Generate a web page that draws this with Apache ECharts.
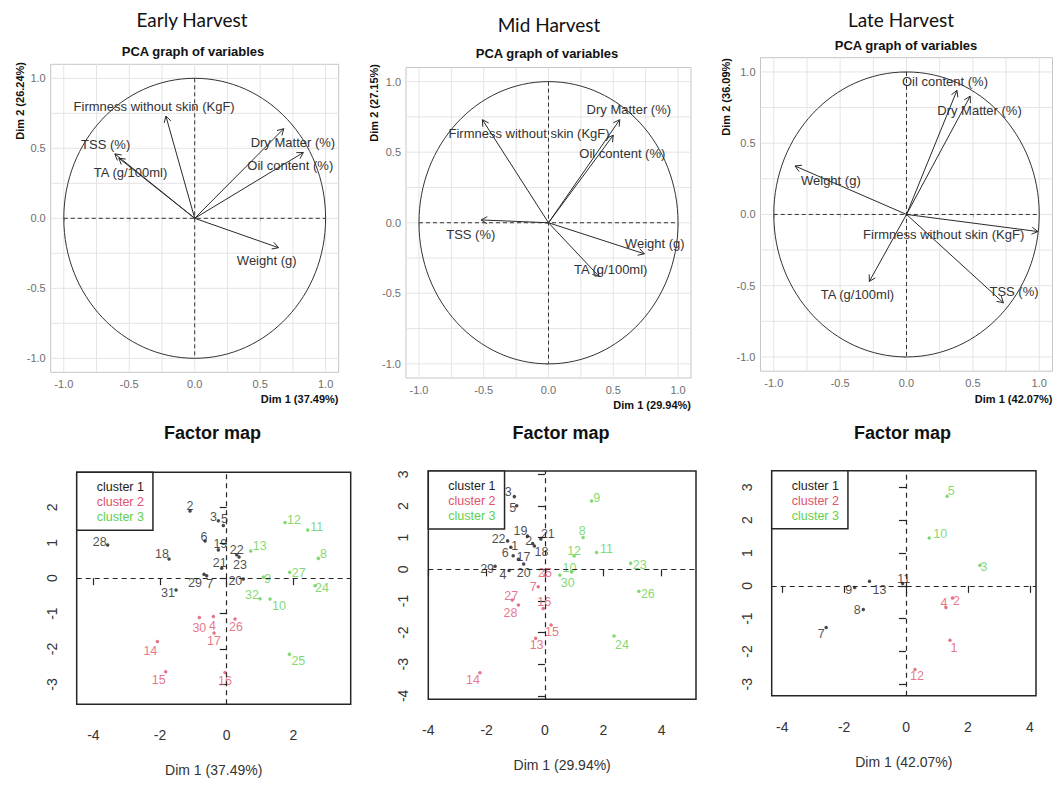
<!DOCTYPE html>
<html>
<head>
<meta charset="utf-8">
<title>PCA and factor maps by harvest stage</title>
<script src="https://cdn.jsdelivr.net/npm/echarts@6/dist/echarts.min.js"></script>
<style>
  html, body { margin: 0; padding: 0; background: #ffffff; }
  #chart { width: 1058px; height: 788px; }
</style>
</head>
<body>
<div id="chart"></div>
<script>
// ---------- PCA variable coordinates (Dim 1, Dim 2) ----------
const varNames = ['Firmness without skin (KgF)', 'TSS (%)', 'TA (g/100ml)', 'Dry Matter (%)', 'Oil content (%)', 'Weight (g)'];

const earlyVarDim1 = [-0.22, -0.61, -0.58, 0.68, 0.83, 0.64];
const earlyVarDim2 = [0.73, 0.46, 0.43, 0.64, 0.47, -0.21];

const midVarDim1 = [-0.51, -0.52, 0.39, 0.55, 0.50, 0.74];
const midVarDim2 = [0.73, 0.02, -0.38, 0.73, 0.62, -0.22];

const lateVarDim1 = [0.99, 0.73, -0.28, 0.48, 0.38, -0.84];
const lateVarDim2 = [-0.12, -0.62, -0.47, 0.83, 0.87, 0.34];

// correlation-circle grid and tick values
const pcaGridSteps = [-1, -0.75, -0.5, -0.25, 0, 0.25, 0.5, 0.75, 1];
const pcaTickValues = [-1, -0.5, 0, 0.5, 1];

// ---------- individuals on the factor maps ----------
const earlyIds = ['28', '2', '3', '5', '6', '19', '22', '23', '18', '21', '29', '7', '20', '31',
                  '30', '4', '26', '17', '14', '15', '16',
                  '12', '11', '13', '8', '27', '9', '24', '32', '10', '25'];
const earlyDim1 = [-3.57, -1.10, -0.25, -0.10, -0.65, -0.25, 0.30, 0.37, -1.73, -0.15, -0.68, -0.60, 0.50, -1.52,
                   -0.82, -0.40, 0.25, -0.38, -2.08, -1.83, -0.05,
                   1.75, 2.43, 0.72, 2.75, 1.89, 1.10, 2.65, 1.00, 1.30, 1.88];
const earlyDim2 = [0.94, 1.90, 1.62, 1.49, 1.05, 0.80, 0.66, 0.60, 0.54, 0.28, 0.11, 0.07, -0.02, -0.33,
                   -1.11, -1.08, -1.15, -1.55, -1.79, -2.64, -2.66,
                   1.57, 1.36, 0.77, 0.56, 0.17, 0.03, -0.21, -0.58, -0.59, -2.15];
const earlyCluster = [1, 1, 1, 1, 1, 1, 1, 1, 1, 1, 1, 1, 1, 1,
                      2, 2, 2, 2, 2, 2, 2,
                      3, 3, 3, 3, 3, 3, 3, 3, 3, 3];

const midIds = ['3', '5', '19', '21', '22', '2', '18', '1', '6', '17', '29', '4', '20',
                '25', '7', '27', '28', '16', '15', '13', '14',
                '9', '8', '11', '12', '23', '10', '30', '26', '24'];
const midDim1 = [-1.05, -0.97, -0.60, -0.14, -1.28, -0.42, -0.36, -1.17, -1.09, -0.91, -1.71, -1.23, -0.73,
                 0.00, -0.23, -1.12, -0.91, -0.06, 0.21, -0.32, -2.23,
                 1.60, 1.31, 1.77, 1.00, 2.94, 0.91, 0.51, 3.22, 2.37];
const midDim2 = [2.30, 2.01, 1.05, 0.96, 0.90, 0.82, 0.74, 0.70, 0.43, 0.32, 0.10, -0.04, 0.17,
                 -0.18, -0.55, -0.97, -1.13, -1.24, -1.76, -2.18, -3.27,
                 2.16, 1.01, 0.53, 0.42, 0.19, -0.08, -0.18, -0.69, -2.11];
const midCluster = [1, 1, 1, 1, 1, 1, 1, 1, 1, 1, 1, 1, 1,
                    2, 2, 2, 2, 2, 2, 2, 2,
                    3, 3, 3, 3, 3, 3, 3, 3, 3];

const lateIds = ['11', '13', '9', '8', '7', '2', '4', '1', '12', '5', '10', '3'];
const lateDim1 = [-0.11, -1.18, -1.66, -1.38, -2.58, 1.50, 1.29, 1.42, 0.29, 1.33, 0.75, 2.39];
const lateDim2 = [0.07, 0.14, -0.05, -0.72, -1.27, -0.37, -0.66, -1.66, -2.55, 2.73, 1.46, 0.63];
const lateCluster = [1, 1, 1, 1, 1, 2, 2, 2, 2, 3, 3, 3];

const clusterNames = ['cluster 1', 'cluster 2', 'cluster 3'];

// axis ticks of the factor maps
const earlyTicksX = [-4, -2, 0, 2];
const earlyTicksY = [-3, -2, -1, 0, 1, 2];
const midTicksX = [-4, -2, 0, 2, 4];
const midTicksY = [-4, -3, -2, -1, 0, 1, 2, 3];
const lateTicksX = [-4, -2, 0, 2, 4];
const lateTicksY = [-3, -2, -1, 0, 1, 2, 3];

// ---------- layout & style ----------
const FONT = '"Liberation Sans", Arial, sans-serif';
const CLUSTER_COLORS = ['#1c1c1c', '#DF536B', '#61D04F'];

// where each variable name sits on the correlation circle
const earlyVarLabelAt = {
  'Firmness without skin (KgF)': [-0.31, 0.80], 'TSS (%)': [-0.68, 0.525], 'TA (g/100ml)': [-0.49, 0.33],
  'Dry Matter (%)': [0.75, 0.54], 'Oil content (%)': [0.73, 0.38], 'Weight (g)': [0.55, -0.30]
};
const midVarLabelAt = {
  'Firmness without skin (KgF)': [-0.15, 0.63], 'TSS (%)': [-0.60, -0.08], 'TA (g/100ml)': [0.48, -0.33],
  'Dry Matter (%)': [0.62, 0.80], 'Oil content (%)': [0.57, 0.49], 'Weight (g)': [0.82, -0.15]
};
const lateVarLabelAt = {
  'Firmness without skin (KgF)': [0.28, -0.14], 'TSS (%)': [0.81, -0.54], 'TA (g/100ml)': [-0.37, -0.56],
  'Dry Matter (%)': [0.55, 0.73], 'Oil content (%)': [0.29, 0.93], 'Weight (g)': [-0.57, 0.24]
};

// pixel offsets of the point labels from their dots
const earlyLabelShift = {
  '28': [-8, -3], '2': [0, -5], '3': [-5, -4], '5': [1, -6], '6': [-1, -4], '19': [2, -6], '22': [0, -5],
  '23': [1, 8], '18': [-7, -5], '21': [-2, -5], '29': [-9, 9], '7': [3, 8], '20': [-8, 2], '31': [-8, 3],
  '30': [0, 10], '4': [-1, 10], '26': [1, 8], '17': [0, 8], '14': [-7, 9], '15': [-7, 8], '16': [0, 9],
  '12': [9, -3], '11': [9, -3], '13': [9, -5], '8': [5, -4], '27': [9, 1], '9': [4, 2], '24': [7, 2],
  '32': [-8, -4], '10': [9, 7], '25': [9, 7]
};
const midLabelShift = {
  '3': [-6, -5], '5': [-4, 2], '19': [-7, -5], '21': [7, -5], '22': [-9, -2], '2': [-4, -2], '18': [7, 6],
  '1': [4, -1], '6': [-8, -3], '17': [5, -2], '29': [-8, 3], '4': [-6, 4], '20': [0, 9],
  '25': [0, -2], '7': [-5, 0], '27': [-1, -4], '28': [-8, 8], '16': [1, -7], '15': [1, 7], '13': [1, 7], '14': [-7, 7],
  '9': [5, -3], '8': [-1, -6], '11': [10, -4], '12': [0, -5], '23': [9, 2], '10': [-2, -4], '30': [8, 8],
  '26': [9, 3], '24': [8, 9]
};
const lateLabelShift = {
  '11': [1, -5], '13': [10, 9], '9': [-6, 3], '8': [-6, 1], '7': [-5, 7],
  '2': [4, 3], '4': [-2, -4], '1': [4, 8], '12': [2, 7],
  '5': [4, -5], '10': [11, -4], '3': [4, 2]
};

const grids = [
  { left: 50.7, top: 64.3, width: 288, height: 308 },
  { left: 406, top: 67.5, width: 285, height: 310.5 },
  { left: 760.5, top: 57.7, width: 292, height: 313.5 },
  { left: 76.7, top: 472.3, width: 274, height: 232 },
  { left: 428.3, top: 471, width: 267.7, height: 228.3 },
  { left: 771.7, top: 470.7, width: 264.3, height: 225 }
].map((g, i) => Object.assign({
  show: true,
  containLabel: false,
  outerBoundsMode: 'none',
  backgroundColor: '#ffffff',
  borderColor: i < 3 ? '#c6c6c6' : '#262626',
  borderWidth: i < 3 ? 1 : 1.5
}, g));

function pcaXAxis(gridIndex) {
  return {
    gridIndex, type: 'value', min: -1.1, max: 1.1,
    axisLine: { show: false }, splitLine: { show: false },
    axisTick: { show: true, customValues: pcaTickValues, length: 3, lineStyle: { color: '#9a9a9a' } },
    axisLabel: { customValues: pcaTickValues, formatter: v => v.toFixed(1), color: '#6e6e6e',
                 fontSize: 11, fontFamily: FONT, margin: 6 }
  };
}
function pcaYAxis(gridIndex) {
  const a = pcaXAxis(gridIndex);
  a.axisLabel = Object.assign({}, a.axisLabel, { margin: 5 });
  return a;
}
function factorXAxis(gridIndex, min, max, ticks, name) {
  return {
    gridIndex, type: 'value', min, max,
    axisLine: { show: false }, splitLine: { show: false },
    axisTick: { show: true, customValues: ticks, length: 7, lineStyle: { color: '#262626', width: 1.2 } },
    axisLabel: { customValues: ticks, color: '#333', fontSize: 14, fontFamily: FONT, margin: 24 },
    name, nameLocation: 'middle', nameGap: 59,
    nameTextStyle: { color: '#333', fontSize: 14, fontFamily: FONT }
  };
}
function factorYAxis(gridIndex, min, max, ticks) {
  return {
    gridIndex, type: 'value', min, max,
    axisLine: { show: false }, splitLine: { show: false },
    axisTick: { show: true, customValues: ticks, length: 7, lineStyle: { color: '#262626', width: 1.2 } },
    axisLabel: { customValues: ticks, rotate: 90, color: '#333', fontSize: 14, fontFamily: FONT, margin: 18 }
  };
}

// gridlines, unit circle and dashed axes of a correlation circle
function pcaBackdrop(gridIndex) {
  return {
    type: 'custom', coordinateSystem: 'cartesian2d', xAxisIndex: gridIndex, yAxisIndex: gridIndex,
    silent: true, z: 1, data: [[0, 0]],
    renderItem(params, api) {
      const cs = params.coordSys;
      const children = [];
      pcaGridSteps.forEach(v => {
        const px = api.coord([v, 0])[0];
        const py = api.coord([0, v])[1];
        children.push({ type: 'line', shape: { x1: px, y1: cs.y, x2: px, y2: cs.y + cs.height },
                        style: { stroke: '#e4e4e4', lineWidth: 1 } });
        children.push({ type: 'line', shape: { x1: cs.x, y1: py, x2: cs.x + cs.width, y2: py },
                        style: { stroke: '#e4e4e4', lineWidth: 1 } });
      });
      const c = api.coord([0, 0]);
      const left = api.coord([-1, 0]), right = api.coord([1, 0]);
      const top = api.coord([0, 1]), bottom = api.coord([0, -1]);
      children.push({ type: 'line', shape: { x1: left[0], y1: left[1], x2: right[0], y2: right[1] },
                      style: { stroke: '#333', lineWidth: 1, lineDash: [4, 3] } });
      children.push({ type: 'line', shape: { x1: top[0], y1: top[1], x2: bottom[0], y2: bottom[1] },
                      style: { stroke: '#333', lineWidth: 1, lineDash: [4, 3] } });
      children.push({ type: 'ellipse', shape: { cx: c[0], cy: c[1], rx: right[0] - c[0], ry: c[1] - top[1] },
                      style: { fill: 'none', stroke: '#333', lineWidth: 1 } });
      return { type: 'group', children };
    }
  };
}

// variable arrows with open heads and their names
function pcaArrows(gridIndex, d1, d2, labelAt) {
  return {
    type: 'custom', coordinateSystem: 'cartesian2d', xAxisIndex: gridIndex, yAxisIndex: gridIndex,
    silent: true, z: 3,
    data: varNames.map((n, i) => [d1[i], d2[i], i]),
    renderItem(params, api) {
      const o = api.coord([0, 0]);
      const t = api.coord([api.value(0), api.value(1)]);
      const name = varNames[api.value(2)];
      const a = Math.atan2(t[1] - o[1], t[0] - o[0]);
      const L = 7, h = Math.PI / 6;
      const p1 = [t[0] - L * Math.cos(a - h), t[1] - L * Math.sin(a - h)];
      const p2 = [t[0] - L * Math.cos(a + h), t[1] - L * Math.sin(a + h)];
      const lp = api.coord(labelAt[name]);
      return {
        type: 'group',
        children: [
          { type: 'line', shape: { x1: o[0], y1: o[1], x2: t[0], y2: t[1] }, style: { stroke: '#2a2a2a', lineWidth: 1 } },
          { type: 'polyline', shape: { points: [p1, t, p2] }, style: { stroke: '#2a2a2a', lineWidth: 1, fill: 'none' } },
          { type: 'text', x: lp[0], y: lp[1],
            style: { text: name, font: '13px ' + FONT, fill: '#333', align: 'center', verticalAlign: 'middle' } }
        ]
      };
    }
  };
}

// individuals of one factor map, one series per cluster
function factorSeries(gridIndex, ids, d1, d2, cl, shift) {
  return clusterNames.map((cname, k) => {
    const color = CLUSTER_COLORS[k];
    const s = {
      type: 'scatter', name: cname, xAxisIndex: gridIndex, yAxisIndex: gridIndex,
      symbol: 'circle', symbolSize: 3.5, silent: true, z: 3,
      itemStyle: { color },
      label: { show: true, position: 'inside', formatter: '{b}', color, fontSize: 12.5, fontFamily: FONT,
               textBorderWidth: 0 },
      data: ids.map((id, i) => i).filter(i => cl[i] === k + 1).map(i => ({
        name: ids[i], value: [d1[i], d2[i]], label: { offset: shift[ids[i]] || [0, 0] }
      }))
    };
    if (k === 0) {
      s.markLine = {
        silent: true, symbol: ['none', 'none'], label: { show: false },
        lineStyle: { color: '#262626', width: 1.2, type: [5, 4] },
        data: [{ xAxis: 0 }, { yAxis: 0 }]
      };
    }
    return s;
  });
}

// cluster key in the top-left corner of a factor map (drawn under the points)
function legendFor(left, top) {
  return {
    orient: 'vertical', left, top, selectedMode: false, z: 1,
    icon: 'rect', itemWidth: 0, itemHeight: 0, itemGap: 1,
    itemStyle: { opacity: 0 },
    padding: [8, 9, 6, 15],
    borderColor: '#262626', borderWidth: 1.5, backgroundColor: '#ffffff',
    textStyle: { fontSize: 12.5, fontFamily: FONT, lineHeight: 14 },
    data: clusterNames.map((n, k) => ({ name: n, textStyle: { color: CLUSTER_COLORS[k] } }))
  };
}

function headText(x, y, text, font, extra) {
  return Object.assign({ type: 'text', x, y, silent: true,
    style: { text, font, fill: '#111', align: 'center', verticalAlign: 'middle' } }, extra || {});
}

const graphics = [
  headText(192, 19.5, 'Early Harvest', '19px Lato, "Open Sans", sans-serif'),
  headText(549, 24, 'Mid Harvest', '19px Lato, "Open Sans", sans-serif'),
  headText(901, 19.5, 'Late Harvest', '19px Lato, "Open Sans", sans-serif'),
  headText(193, 51.7, 'PCA graph of variables', 'bold 13px ' + FONT),
  headText(547, 53.3, 'PCA graph of variables', 'bold 13px ' + FONT),
  headText(906, 45, 'PCA graph of variables', 'bold 13px ' + FONT),
  headText(212.5, 433.3, 'Factor map', 'bold 18px ' + FONT),
  headText(561, 433.3, 'Factor map', 'bold 18px ' + FONT),
  headText(902.5, 433.3, 'Factor map', 'bold 18px ' + FONT),
  // axis titles of the correlation circles
  { type: 'text', x: 338.5, y: 399, silent: true,
    style: { text: 'Dim 1 (37.49%)', font: 'bold 11px ' + FONT, fill: '#111', align: 'right', verticalAlign: 'middle' } },
  { type: 'text', x: 691, y: 405, silent: true,
    style: { text: 'Dim 1 (29.94%)', font: 'bold 11px ' + FONT, fill: '#111', align: 'right', verticalAlign: 'middle' } },
  { type: 'text', x: 1052.5, y: 399, silent: true,
    style: { text: 'Dim 1 (42.07%)', font: 'bold 11px ' + FONT, fill: '#111', align: 'right', verticalAlign: 'middle' } },
  { type: 'text', x: 20, y: 62, rotation: Math.PI / 2, silent: true,
    style: { text: 'Dim 2 (26.24%)', font: 'bold 11px ' + FONT, fill: '#111', align: 'right', verticalAlign: 'middle' } },
  { type: 'text', x: 374, y: 64, rotation: Math.PI / 2, silent: true,
    style: { text: 'Dim 2 (27.15%)', font: 'bold 11px ' + FONT, fill: '#111', align: 'right', verticalAlign: 'middle' } },
  { type: 'text', x: 726, y: 58, rotation: Math.PI / 2, silent: true,
    style: { text: 'Dim 2 (36.09%)', font: 'bold 11px ' + FONT, fill: '#111', align: 'right', verticalAlign: 'middle' } }
];

const option = {
  animation: false,
  backgroundColor: '#ffffff',
  grid: grids,
  xAxis: [
    pcaXAxis(0), pcaXAxis(1), pcaXAxis(2),
    factorXAxis(3, -4.5, 3.72, earlyTicksX, 'Dim 1 (37.49%)'),
    factorXAxis(4, -4.0, 5.18, midTicksX, 'Dim 1 (29.94%)'),
    factorXAxis(5, -4.34, 4.20, lateTicksX, 'Dim 1 (42.07%)')
  ],
  yAxis: [
    pcaYAxis(0), pcaYAxis(1), pcaYAxis(2),
    factorYAxis(3, -3.56, 2.99, earlyTicksY),
    factorYAxis(4, -4.11, 3.11, midTicksY),
    factorYAxis(5, -3.35, 3.51, lateTicksY)
  ],
  legend: [legendFor(76.7, 472.3), legendFor(428.3, 471), legendFor(771.7, 470.7)],
  graphic: { elements: graphics },
  series: [
    pcaBackdrop(0), pcaBackdrop(1), pcaBackdrop(2),
    pcaArrows(0, earlyVarDim1, earlyVarDim2, earlyVarLabelAt),
    pcaArrows(1, midVarDim1, midVarDim2, midVarLabelAt),
    pcaArrows(2, lateVarDim1, lateVarDim2, lateVarLabelAt),
    ...factorSeries(3, earlyIds, earlyDim1, earlyDim2, earlyCluster, earlyLabelShift),
    ...factorSeries(4, midIds, midDim1, midDim2, midCluster, midLabelShift),
    ...factorSeries(5, lateIds, lateDim1, lateDim2, lateCluster, lateLabelShift)
  ]
};

const chart = echarts.init(document.getElementById('chart'), null, { renderer: 'svg', width: 1058, height: 788 });
chart.setOption(option);
</script>
</body>
</html>
